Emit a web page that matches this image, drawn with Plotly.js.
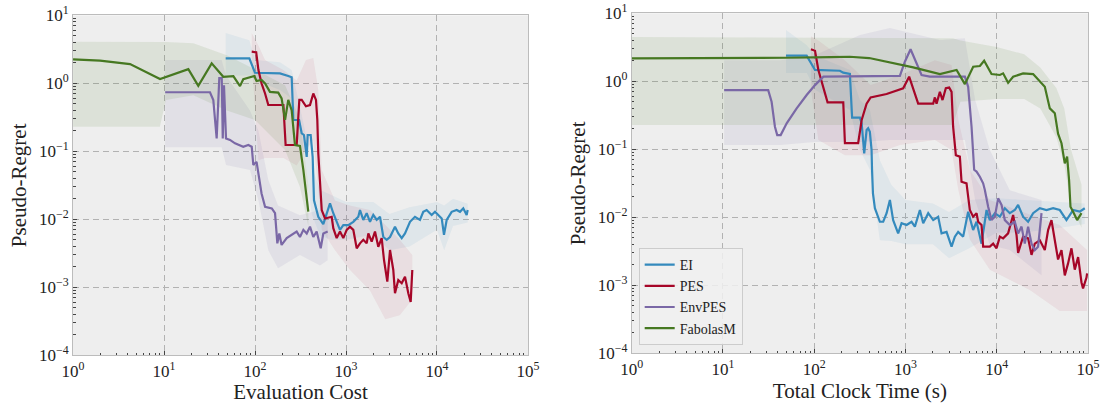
<!DOCTYPE html>
<html>
<head>
<meta charset="utf-8">
<script src="https://cdn.plot.ly/plotly-3.0.1.min.js"></script>
<style>html,body{margin:0;padding:0;background:#fff;}#chart{width:1105px;height:404px;}</style>
</head>
<body>
<div id="chart"></div>
<script>
// ---------- tick labels ----------
const xTickVals = [1, 10, 100, 1000, 10000, 100000];
const xTickText = ['10<sup>0</sup>', '10<sup>1</sup>', '10<sup>2</sup>', '10<sup>3</sup>', '10<sup>4</sup>', '10<sup>5</sup>'];
const yTickVals = [0.0001, 0.001, 0.01, 0.1, 1, 10];
const yTickText = ['10<sup>\u22124</sup>', '10<sup>\u22123</sup>', '10<sup>\u22122</sup>', '10<sup>\u22121</sup>', '10<sup>0</sup>', '10<sup>1</sup>'];
const seriesNames = ['EI', 'PES', 'EnvPES', 'FabolasM'];

// ---------- Left panel: Evaluation Cost ----------
const eiCostX = [47.6, 86.6, 100, 188, 232, 253, 264, 305, 326, 345, 370, 379, 409, 430, 445, 496, 563, 614, 667, 725, 790, 859, 934, 1060, 1203, 1365, 1425, 1549, 1688, 1835, 1995, 2174, 2364, 2571, 2800, 3047, 3455, 3756, 4095, 4451, 5050, 5728, 6500, 7068, 7700, 8740, 9510, 10330, 11270, 11940, 12780, 14500, 16460, 17900, 19450, 21200, 21740];
const eiCostY = [2.33, 2.33, 1.43, 1.40, 1.28, 1.23, 0.289, 0.289, 0.184, 0.174, 0.083, 0.174, 0.174, 0.083, 0.019, 0.0109, 0.0085, 0.0123, 0.0172, 0.0123, 0.0092, 0.0070, 0.0082, 0.0082, 0.0092, 0.0109, 0.0137, 0.0098, 0.0123, 0.0092, 0.0116, 0.0098, 0.0109, 0.0055, 0.0050, 0.0055, 0.0078, 0.0062, 0.0053, 0.0062, 0.0092, 0.0109, 0.0098, 0.0129, 0.0137, 0.0116, 0.0129, 0.0116, 0.0103, 0.0059, 0.0098, 0.0129, 0.0137, 0.0129, 0.0145, 0.0116, 0.0137];
const eiCostBandX = [47.6, 86.6, 100, 188, 253, 300, 345, 420, 518, 680, 1000, 2000, 3000, 5000, 10000, 12000, 15000, 21740];
const eiCostBandUp = [5.5, 4.3, 2.2, 2.05, 1.57, 0.57, 0.24, 0.06, 0.027, 0.023, 0.018, 0.018, 0.012, 0.015, 0.018, 0.016, 0.02, 0.017];
const eiCostBandLo = [1.3, 1.3, 1.12, 0.8, 0.6, 0.15, 0.1, 0.012, 0.0058, 0.005, 0.005, 0.006, 0.0035, 0.004, 0.007, 0.0035, 0.008, 0.009];

const pesCostX = [92, 103, 109, 118, 129, 140, 205, 217, 287, 307, 326, 363, 402, 437, 468, 484, 496, 541, 588, 696, 725, 790, 859, 934, 1018, 1107, 1203, 1311, 1425, 1549, 1688, 1760, 1915, 2083, 2265, 2467, 2617, 2845, 3047, 3310, 3455, 3756, 4095, 4451, 4840, 5140, 5355];
const pesCostY = [2.92, 2.86, 1.57, 1.0, 0.71, 0.48, 0.48, 0.124, 0.124, 0.57, 0.57, 0.46, 0.48, 0.71, 0.57, 0.289, 0.093, 0.0137, 0.0103, 0.0109, 0.0074, 0.0053, 0.0066, 0.0053, 0.0070, 0.0078, 0.0070, 0.00375, 0.00444, 0.0050, 0.00444, 0.0062, 0.00469, 0.0066, 0.00395, 0.0053, 0.00252, 0.00121, 0.00354, 0.0018, 0.00082, 0.00128, 0.00115, 0.00143, 0.00082, 0.00061, 0.0018];
const pesCostBandX = [92, 109, 129, 205, 287, 363, 437, 496, 541, 757, 1107, 1835, 2700, 3900, 5355];
const pesCostBandUp = [5.5, 3.6, 2.2, 1.57, 1.1, 2.2, 2.35, 0.8, 0.053, 0.019, 0.016, 0.0137, 0.0083, 0.005, 0.003];
const pesCostBandLo = [2.2, 0.074, 0.08, 0.08, 0.062, 0.105, 0.146, 0.027, 0.007, 0.0035, 0.0018, 0.0009, 0.00034, 0.00039, 0.00066];

const envCostX = [10.3, 32.0, 34.8, 37.9, 40.5, 43.1, 44.2, 45.6, 48.0, 53.1, 60.3, 74.3, 84.4, 92, 95.8, 104, 109, 118, 129, 153, 166, 176, 185, 196, 223, 264, 287, 312, 340, 370, 402, 437, 476, 527, 563, 629];
const envCostY = [0.74, 0.74, 0.57, 0.155, 1.19, 1.19, 0.155, 0.94, 0.155, 0.147, 0.131, 0.117, 0.124, 0.117, 0.063, 0.070, 0.047, 0.024, 0.0153, 0.0145, 0.0123, 0.00444, 0.0062, 0.0042, 0.0053, 0.0062, 0.0066, 0.0055, 0.0070, 0.0062, 0.0078, 0.0055, 0.0066, 0.00375, 0.0062, 0.0066];
const envCostBandX = [10.3, 43, 48, 88, 109, 140, 179, 312, 518, 629];
const envCostBandUp = [2.2, 2.2, 1.3, 0.40, 0.2, 0.038, 0.016, 0.0115, 0.0137, 0.0115];
const envCostBandLo = [0.115, 0.115, 0.063, 0.053, 0.019, 0.0035, 0.0019, 0.003, 0.0021, 0.0025];

const fabCostX = [1, 1.98, 4.23, 9.04, 18.5, 23.8, 33.4, 44.8, 57.8, 68.4, 74.3, 92, 98.2, 104, 118, 129, 146, 180, 196, 214, 232, 253, 275, 312, 340, 385];
const fabCostY = [2.25, 2.16, 1.92, 1.16, 1.62, 0.92, 1.97, 1.25, 1.28, 0.91, 1.15, 1.23, 1.28, 1.08, 1.12, 1.0, 0.75, 0.73, 0.60, 0.29, 0.57, 0.40, 0.124, 0.12, 0.053, 0.013];
const fabCostBandX = [1, 9, 10.5, 21, 49, 100, 214, 312, 385];
const fabCostBandUp = [4.1, 4.05, 4.05, 3.9, 2.6, 1.6, 0.94, 0.3, 0.032];
const fabCostBandLo = [0.23, 0.23, 0.57, 0.67, 0.4, 0.29, 0.105, 0.03, 0.008];

// ---------- Right panel: Total Clock Time (s) ----------
const eiTimeX = [49, 82.6, 102, 191, 208, 246, 260, 317, 331, 353, 375, 390, 407, 425, 430, 440, 462, 524, 570, 621, 675, 733, 831, 906, 1028, 1166, 1268, 1439, 1564, 1775, 2012, 2282, 2485, 2818, 3199, 3476, 3777, 4286, 4862, 5513, 6010, 6816, 7733, 8400, 9530, 10820, 12270, 13910, 15780, 17150, 19450, 22070, 25050, 29660, 35100, 41500, 49100, 58100, 68700, 81300, 92200];
const eiTimeY = [2.38, 2.38, 1.47, 1.43, 1.34, 1.28, 0.292, 0.292, 0.241, 0.087, 0.192, 0.204, 0.181, 0.098, 0.05, 0.0225, 0.0136, 0.0086, 0.0086, 0.0115, 0.0180, 0.0091, 0.0058, 0.0082, 0.0077, 0.0086, 0.0073, 0.0128, 0.0082, 0.0115, 0.0091, 0.0102, 0.0058, 0.0061, 0.0037, 0.0052, 0.0061, 0.0052, 0.0121, 0.0065, 0.0086, 0.0041, 0.0128, 0.0091, 0.0115, 0.0102, 0.0136, 0.0115, 0.0128, 0.0152, 0.0102, 0.0086, 0.0115, 0.0136, 0.0128, 0.0136, 0.0128, 0.0091, 0.0128, 0.0121, 0.0136];
const eiTimeBandX = [49, 83, 102, 246, 317, 407, 524, 700, 1000, 2000, 3000, 5000, 10000, 20000, 50000, 92200];
const eiTimeBandUp = [5.7, 3.4, 2.4, 1.47, 0.53, 0.38, 0.069, 0.03, 0.018, 0.016, 0.012, 0.018, 0.019, 0.018, 0.017, 0.016];
const eiTimeBandLo = [1.32, 1.32, 0.75, 0.38, 0.098, 0.05, 0.0046, 0.0045, 0.004, 0.004, 0.0025, 0.0035, 0.006, 0.006, 0.007, 0.008];

const pesTimeX = [92, 102, 111, 126, 140, 208, 217, 303, 331, 375, 415, 621, 944, 1097, 1268, 1378, 2012, 2100, 2190, 2382, 2547, 2767, 3010, 3199, 3327, 3563, 3944, 4114, 4667, 5072, 5513, 6010, 6256, 6816, 7096, 8400, 9136, 9950, 10820, 11750, 13330, 15130, 16480, 17150, 19450, 22070, 24060, 26130, 29660, 33640, 36560, 39810, 43300, 47000, 51260, 55700, 60500, 65920, 71650, 77960, 84900, 88300, 96300, 97800];
const pesTimeY = [2.96, 2.82, 1.47, 0.83, 0.49, 0.49, 0.123, 0.123, 0.27, 0.47, 0.58, 0.65, 0.79, 1.17, 0.63, 0.47, 0.47, 0.58, 0.47, 0.70, 0.53, 0.79, 0.81, 0.70, 0.215, 0.082, 0.078, 0.0334, 0.0316, 0.0128, 0.0102, 0.0115, 0.0086, 0.0077, 0.0037, 0.0037, 0.0041, 0.0035, 0.0052, 0.0049, 0.0058, 0.0108, 0.0055, 0.0030, 0.0052, 0.0049, 0.0028, 0.0041, 0.0046, 0.0033, 0.0065, 0.0091, 0.0046, 0.0024, 0.0033, 0.0014, 0.0021, 0.0035, 0.0017, 0.0026, 0.0011, 0.0009, 0.0013, 0.0015];
const pesTimeBandX = [92, 111, 217, 415, 870, 2100, 3200, 3800, 5070, 8400, 23000, 49000, 97800];
const pesTimeBandUp = [4.6, 4.0, 2.05, 0.88, 1.24, 2.05, 1.74, 0.27, 0.05, 0.018, 0.011, 0.0077, 0.0033];
const pesTimeBandLo = [0.74, 0.137, 0.082, 0.082, 0.116, 0.137, 0.098, 0.025, 0.0047, 0.0017, 0.00085, 0.00042, 0.00042];

const envTimeX = [10.3, 31.3, 34.1, 37.1, 39.3, 42.9, 49.9, 64.2, 82.6, 102, 126, 868, 985, 1137, 1500, 1849, 4477, 4862, 5297, 5657, 6010, 6535, 7096, 7410, 8054, 8770, 9530, 10360, 11290, 12270, 13910, 15780, 17150, 18700, 20310, 22070, 24060, 26130, 28380, 30960];
const envTimeY = [0.74, 0.74, 0.50, 0.215, 0.162, 0.162, 0.241, 0.40, 0.63, 0.88, 1.17, 1.20, 1.94, 2.96, 1.24, 1.17, 1.17, 0.83, 0.215, 0.050, 0.047, 0.0396, 0.0316, 0.0252, 0.0143, 0.0091, 0.0102, 0.0190, 0.0152, 0.0091, 0.0077, 0.0086, 0.0058, 0.0073, 0.0041, 0.0073, 0.0041, 0.0033, 0.0037, 0.0115];
const envTimeBandX = [10.3, 43, 100, 317, 675, 2382, 4477, 5800, 8400, 13900, 30960];
const envTimeBandUp = [2.05, 2.05, 2.4, 4.8, 6.1, 4.05, 4.3, 0.53, 0.098, 0.025, 0.018];
const envTimeBandLo = [0.116, 0.116, 0.128, 0.128, 0.137, 0.137, 0.137, 0.018, 0.0039, 0.0033, 0.0014];

const fabTimeX = [1, 10, 50, 150, 245, 400, 621, 1214, 2382, 3630, 4477, 5520, 6535, 7280, 8770, 10820, 11750, 13330, 15130, 19470, 25050, 29660, 33640, 38170, 43300, 47000, 51260, 55700, 59060, 62100, 64300, 68700, 76000, 84900];
const fabTimeY = [2.18, 2.19, 2.22, 2.27, 2.30, 2.2, 1.94, 1.60, 1.28, 1.47, 0.91, 1.64, 1.68, 2.01, 1.28, 1.24, 1.31, 0.95, 1.17, 1.31, 1.28, 0.99, 0.83, 0.40, 0.34, 0.17, 0.123, 0.062, 0.078, 0.035, 0.0143, 0.0121, 0.0091, 0.0115];
const fabTimeBandX = [1, 3300, 4000, 10000, 20000, 30000, 45000, 55000, 65000, 85000];
const fabTimeBandUp = [4.5, 4.3, 4.0, 3.2, 2.5, 1.6, 0.8, 0.4, 0.1, 0.03];
const fabTimeBandLo = [0.228, 0.228, 0.5, 0.55, 0.55, 0.4, 0.15, 0.06, 0.015, 0.007];

// ---------- styling ----------
const colors = ['#348ABD', '#A60628', '#7A68A6', '#467821'];
const bandColors = ['rgba(52,138,189,0.08)', 'rgba(166,6,40,0.065)', 'rgba(122,104,166,0.10)', 'rgba(70,120,33,0.10)'];
const serif = 'Liberation Serif, DejaVu Serif, serif';

function band(x, up, lo, color, xa, ya) {
  return {
    x: x.concat(x.slice().reverse()),
    y: up.concat(lo.slice().reverse()),
    type: 'scatter', mode: 'lines', fill: 'toself', fillcolor: color,
    line: {width: 0, color: 'rgba(0,0,0,0)'}, hoverinfo: 'skip', showlegend: false,
    xaxis: xa, yaxis: ya
  };
}
function line(x, y, i, xa, ya, legend) {
  return {
    x: x, y: y, type: 'scatter', mode: 'lines', name: seriesNames[i],
    line: {color: colors[i], width: 2.2}, showlegend: legend,
    xaxis: xa, yaxis: ya
  };
}

const costSets = [
  [eiCostX, eiCostY, eiCostBandX, eiCostBandUp, eiCostBandLo],
  [pesCostX, pesCostY, pesCostBandX, pesCostBandUp, pesCostBandLo],
  [envCostX, envCostY, envCostBandX, envCostBandUp, envCostBandLo],
  [fabCostX, fabCostY, fabCostBandX, fabCostBandUp, fabCostBandLo]
];
const timeSets = [
  [eiTimeX, eiTimeY, eiTimeBandX, eiTimeBandUp, eiTimeBandLo],
  [pesTimeX, pesTimeY, pesTimeBandX, pesTimeBandUp, pesTimeBandLo],
  [envTimeX, envTimeY, envTimeBandX, envTimeBandUp, envTimeBandLo],
  [fabTimeX, fabTimeY, fabTimeBandX, fabTimeBandUp, fabTimeBandLo]
];

const traces = [];
costSets.forEach((s, i) => traces.push(band(s[2], s[3], s[4], bandColors[i], 'x', 'y')));
timeSets.forEach((s, i) => traces.push(band(s[2], s[3], s[4], bandColors[i], 'x2', 'y2')));
costSets.forEach((s, i) => traces.push(line(s[0], s[1], i, 'x', 'y', false)));
timeSets.forEach((s, i) => traces.push(line(s[0], s[1], i, 'x2', 'y2', true)));

const minorVals = [];
for (let e = -4; e < 5; e++) for (let d = 2; d < 10; d++) minorVals.push(d * Math.pow(10, e));

function xAxis(domain, anchor, title) {
  return {
    type: 'log', range: [0, 5], domain: domain, anchor: anchor,
    tickvals: xTickVals, ticktext: xTickText,
    tickfont: {family: serif, size: 17, color: '#222'},
    ticks: 'inside', ticklen: 4, tickcolor: '#444', tickwidth: 1,
    minor: {tickvals: minorVals, ticks: 'inside', ticklen: 2.5, tickcolor: '#444', showgrid: false},
    showgrid: true, gridcolor: '#b2b2b2', griddash: '6px,4px', gridwidth: 1,
    showline: true, mirror: true, linecolor: '#bcbcbc', linewidth: 1,
    zeroline: false, automargin: false,
    title: {text: title, font: {family: serif, size: 21, color: '#222'}, standoff: 4}
  };
}
function yAxis(domain, anchor) {
  return {
    type: 'log', range: [-4, 1], domain: domain, anchor: anchor,
    tickvals: yTickVals, ticktext: yTickText,
    tickfont: {family: serif, size: 17, color: '#222'},
    ticks: 'inside', ticklen: 4, tickcolor: '#444', tickwidth: 1,
    minor: {tickvals: minorVals, ticks: 'inside', ticklen: 2.5, tickcolor: '#444', showgrid: false},
    showgrid: true, gridcolor: '#b2b2b2', griddash: '6px,4px', gridwidth: 1,
    showline: true, mirror: true, linecolor: '#bcbcbc', linewidth: 1,
    zeroline: false, automargin: false,
    title: {text: 'Pseudo-Regret', font: {family: serif, size: 21, color: '#222'}, standoff: 6}
  };
}

const layout = {
  width: 1105, height: 404,
  margin: {l: 0, r: 0, t: 0, b: 0},
  paper_bgcolor: '#ffffff', plot_bgcolor: '#eeeeee',
  showlegend: true,
  xaxis: xAxis([0.0661, 0.4778], 'y', 'Evaluation Cost'),
  yaxis: yAxis([0.1205, 0.962], 'x'),
  xaxis2: xAxis([0.5717, 0.9846], 'y2', 'Total Clock Time (s)'),
  yaxis2: yAxis([0.1255, 0.967], 'x2'),
  legend: {
    x: 0.578, y: 0.146, xanchor: 'left', yanchor: 'bottom',
    bgcolor: 'rgba(240,240,240,0.85)', bordercolor: '#cccccc', borderwidth: 1,
    font: {family: serif, size: 14, color: '#222'}, tracegroupgap: 0
  }
};

Plotly.newPlot('chart', traces, layout, {displayModeBar: false, staticPlot: true});
</script>
</body>
</html>
